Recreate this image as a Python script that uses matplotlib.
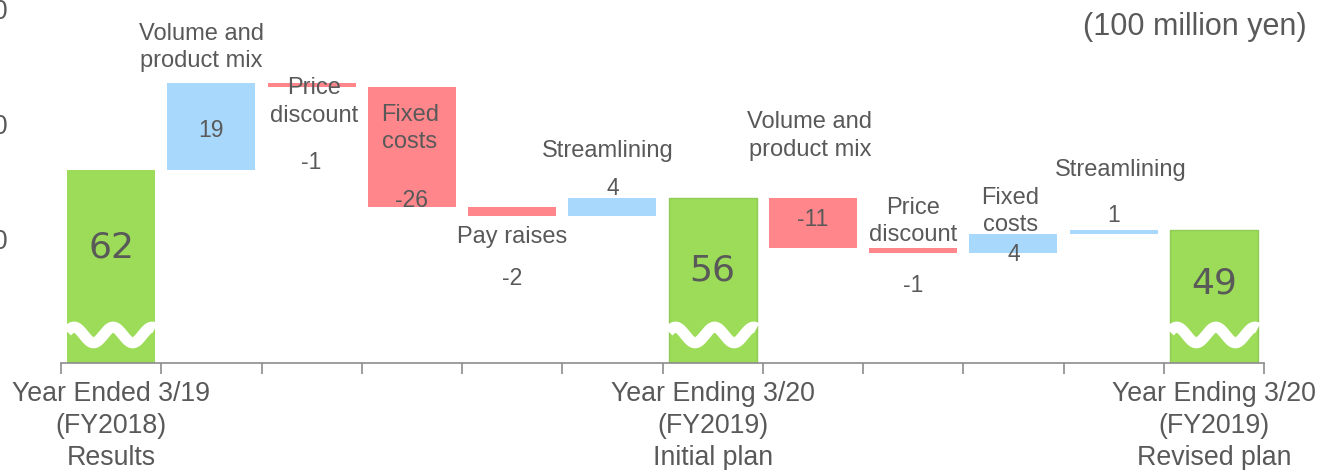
import numpy as np
import matplotlib.pyplot as plt

# data (100 million yen)
categories = ["Year Ended 3/19\n(FY2018)\nResults", "Volume and\nproduct mix", "Price\ndiscount",
              "Fixed\ncosts", "Pay raises", "Streamlining",
              "Year Ending 3/20\n(FY2019)\nInitial plan", "Volume and\nproduct mix", "Price\ndiscount",
              "Fixed\ncosts", "Streamlining", "Year Ending 3/20\n(FY2019)\nRevised plan"]
values = [62, 19, -1, -26, -2, 4, 56, -11, -1, 4, 1, 49]
is_total = [True, False, False, False, False, False, True, False, False, False, False, True]

# label layout (y in data units)
name_y = [None, 88.6, 76.8, 71.0, 47.4, 66.1, None, 69.4, 50.8, 53.0, 62.0, None]
name_dx = [0, -0.1, 0.02, -0.02, 0.0, -0.05, 0, -0.03, 0.0, -0.03, 0.07, 0]
value_y = [45.2, 70.5, 63.7, 55.3, 38.3, 57.9, 40.2, 51.3, 36.8, 43.7, 52.2, 37.4]

GREEN = "#9CDC58"
BLUE = "#A8D8FC"
RED = "#FF868B"
TEXT = "#595959"
AXIS = "#8C8C8C"

plt.rcParams['font.family'] = ['Liberation Sans', 'DejaVu Sans']

fig = plt.figure(figsize=(13.22, 4.70), dpi=100)
ax = fig.add_axes([61 / 1322, 1 - 363 / 470, (1264 - 61) / 1322, 363 / 470])

x = np.arange(len(values))
bottoms, heights, colors = [], [], []
running = 0
for v, tot in zip(values, is_total):
    if tot:
        bottoms.append(0)
        heights.append(v)
        colors.append(GREEN)
        running = v
    else:
        start = running
        running = running + v
        bottoms.append(min(start, running))
        heights.append(abs(v))
        colors.append(BLUE if v > 0 else RED)

width = 0.88
edges = ["#8FCB55" if (t and i > 0) else "none" for i, t in enumerate(is_total)]
ax.bar(x, heights, bottom=bottoms, width=width, color=colors, edgecolor=edges, linewidth=1, zorder=2)

# wavy axis-break marks on the total bars
for i, tot in enumerate(is_total):
    if tot:
        t = np.linspace(-width / 2, width / 2, 200)
        wy = 26.1 + 1.7 * np.cos(2 * np.pi * (t + width / 2 - 0.07) / 0.39)
        ax.plot(x[i] + t, wy, color="white", lw=8, solid_capstyle="butt", zorder=3)

# labels
for i, v in enumerate(values):
    if is_total[i]:
        ax.text(x[i], value_y[i], str(v), ha="center", va="center", fontsize=26,
                color=TEXT, family="DejaVu Sans", zorder=4)
    else:
        ax.text(x[i] + name_dx[i], name_y[i], categories[i], ha="center", va="center",
                fontsize=17, color=TEXT, linespacing=1.3, zorder=4)
        ax.text(x[i], value_y[i], str(v), ha="center", va="center", fontsize=16.5,
                color=TEXT, zorder=4)

fig.text(1307 / 1322, 1 - 27 / 470, "(100 million yen)", ha="right", va="center",
         fontsize=22, color=TEXT)

ax.set_xlim(-0.5, len(values) - 0.5)
ax.set_ylim(20, 99)

# x axis: labels only for totals, tick marks on category boundaries
ax.set_xticks([i for i, t in enumerate(is_total) if t])
ax.set_xticklabels([categories[i] for i, t in enumerate(is_total) if t],
                   fontsize=19.3, color=TEXT, linespacing=1.3)
ax.set_xticks(np.arange(-0.5, len(values)), minor=True)
ax.tick_params(axis="x", which="major", length=0, pad=13)
ax.tick_params(axis="x", which="minor", length=8, color=AXIS, width=1.2)

# y axis mostly off the page
ax.set_yticks([47, 72, 97])
ax.set_yticklabels(["40", "60", "80"], fontsize=19.3, color=TEXT)
ax.tick_params(axis="y", length=0, pad=38)

for s in ["top", "right", "left"]:
    ax.spines[s].set_visible(False)
ax.spines["bottom"].set_color(AXIS)
ax.spines["bottom"].set_linewidth(1.2)
ax.patch.set_alpha(0)

fig.savefig("out.png", dpi=100)
